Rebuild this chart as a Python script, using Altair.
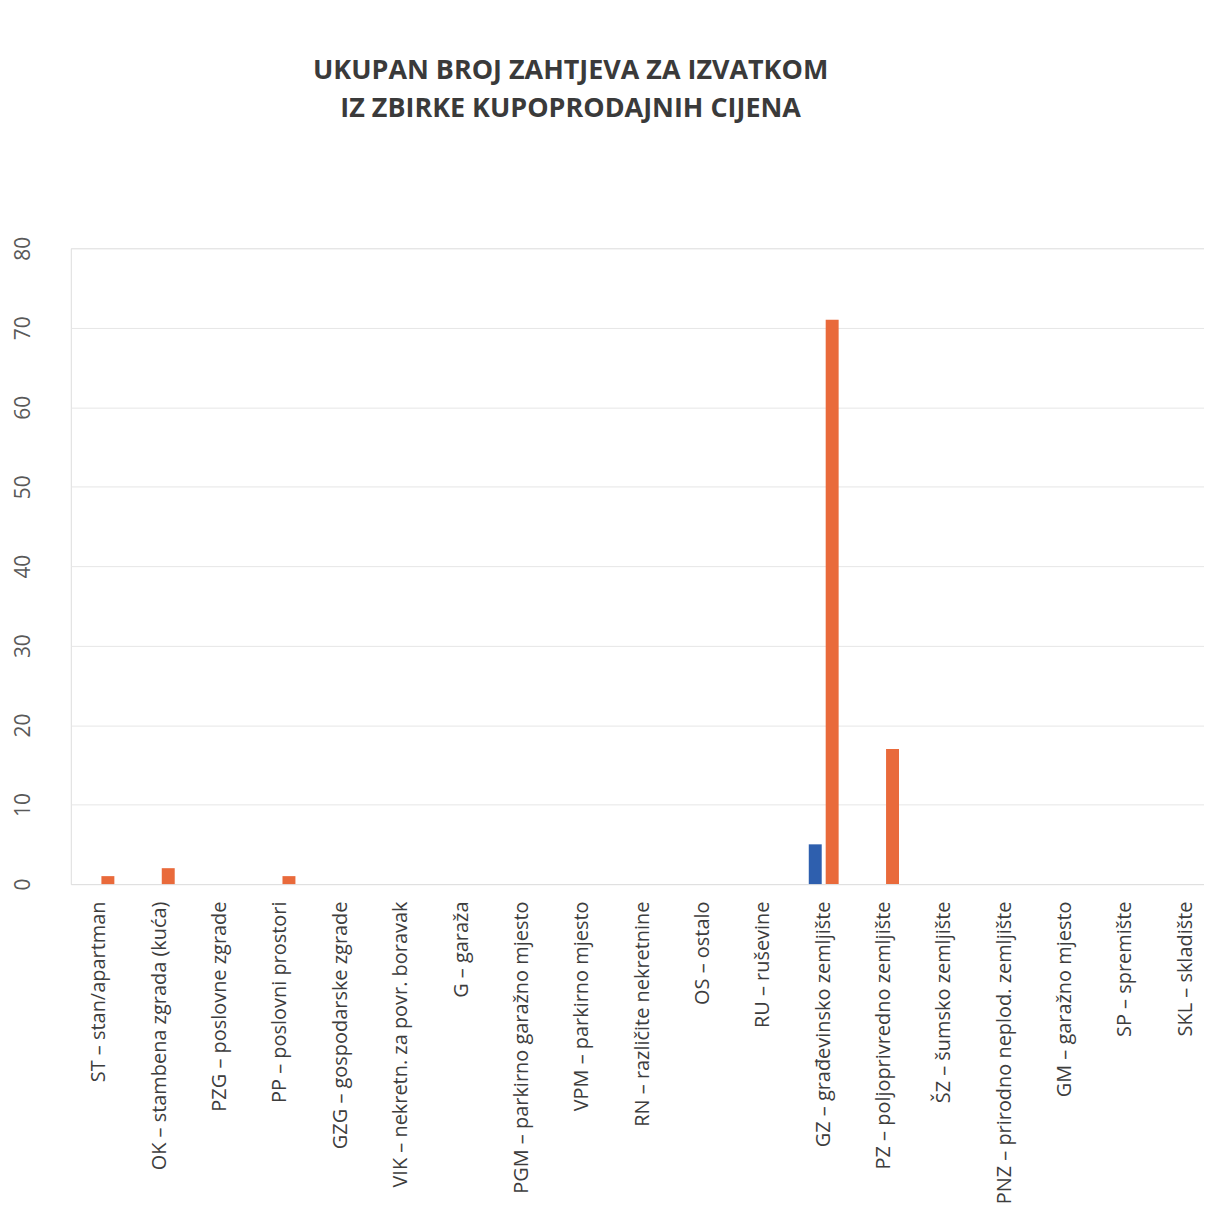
import altair as alt
import pandas as pd

categories = [
    "ST – stan/apartman",
    "OK – stambena zgrada (kuća)",
    "PZG – poslovne zgrade",
    "PP – poslovni prostori",
    "GZG – gospodarske zgrade",
    "VIK – nekretn. za povr. boravak",
    "G – garaža",
    "PGM – parkirno garažno mjesto",
    "VPM – parkirno mjesto",
    "RN – različite nekretnine",
    "OS – ostalo",
    "RU – ruševine",
    "GZ – građevinsko zemljište",
    "PZ – poljoprivredno zemljište",
    "ŠZ – šumsko zemljište",
    "PNZ – prirodno neplod. zemljište",
    "GM – garažno mjesto",
    "SP – spremište",
    "SKL – skladište",
]
series_names = ["Serija 1", "Serija 2"]
series1_values = [0, 0, 0, 0, 0, 0, 0, 0, 0, 0, 0, 0, 5, 0, 0, 0, 0, 0, 0]
series2_values = [1, 2, 0, 1, 0, 0, 0, 0, 0, 0, 0, 0, 71, 17, 0, 0, 0, 0, 0]
colors = ["#2e5fae", "#e96a3b"]
title_lines = ["UKUPAN BROJ ZAHTJEVA ZA IZVATKOM", "IZ ZBIRKE KUPOPRODAJNIH CIJENA"]

rows = []
for name, vals in zip(series_names, [series1_values, series2_values]):
    for c, v in zip(categories, vals):
        rows.append({"kategorija": c, "serija": name, "broj": v})
df = pd.DataFrame(rows)

chart = (
    alt.Chart(df)
    .mark_bar()
    .encode(
        x=alt.X(
            "kategorija:N",
            sort=categories,
            title=None,
            scale=alt.Scale(paddingInner=0.505, paddingOuter=0.14, align=0.81),
            axis=alt.Axis(
                labelAngle=-90,
                labelFont="Open Sans",
                labelFontSize=20,
                labelColor="#3d3d3d",
                labelPadding=17,
                ticks=False,
                grid=False,
                domainColor="#e0e0e0",
                labelLimit=400,
            ),
        ),
        xOffset=alt.XOffset(
            "serija:N",
            sort=series_names,
            scale=alt.Scale(paddingInner=0.235),
        ),
        y=alt.Y(
            "broj:Q",
            title=None,
            scale=alt.Scale(domain=[0, 80]),
            axis=alt.Axis(
                values=[0, 10, 20, 30, 40, 50, 60, 70, 80],
                labelAngle=-90,
                labelAlign="center",
                labelBaseline="bottom",
                labelPadding=37,
                labelFont="Open Sans",
                labelFontSize=21,
                labelColor="#595959",
                ticks=False,
                domain=False,
                domainColor="white",
                domainOpacity=0,
                gridColor="#e6e6e6",
            ),
        ),
        color=alt.Color(
            "serija:N",
            sort=series_names,
            scale=alt.Scale(domain=series_names, range=colors),
            legend=None,
        ),
    )
    .properties(
        width=1137,
        height=638,
        autosize=alt.AutoSizeParams(type="none"),
        padding={"left": 63, "top": 239, "right": 0, "bottom": 325},
        title=alt.TitleParams(
            text=title_lines,
            font="Open Sans",
            fontSize=27,
            fontWeight="bold",
            color="#3a3a3a",
            anchor="middle",
            offset=114,
            dx=-67,
            lineHeight=38,
        ),
    )
    .configure_view(stroke="white", strokeOpacity=0, strokeWidth=0, fill="white")
    .configure(background="white")
)

chart.save("out.html", embed_options={"renderer": "svg", "actions": False})
